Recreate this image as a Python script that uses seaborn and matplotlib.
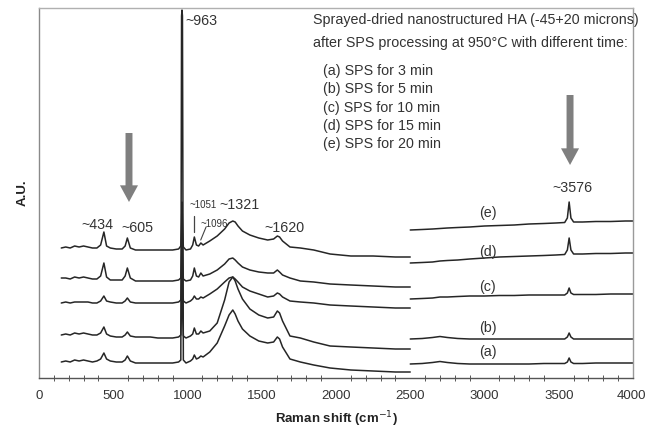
import matplotlib
matplotlib.use("Agg")
import matplotlib.pyplot as plt
import matplotlib.transforms as mtransforms
import seaborn as sns
import pandas as pd

# ---------------- data ----------------
TRACES = ["a", "b", "c", "d", "e"]

X_LEFT = [150, 180, 210, 240, 270, 300, 330, 360, 390, 415, 437, 455, 480, 520, 560,
          580, 595, 615, 650, 700, 750, 800, 850, 900, 940, 955, 960, 963, 966, 972,
          990, 1020, 1035, 1046, 1060, 1075, 1090, 1105, 1150, 1200, 1250, 1280, 1305,
          1321, 1340, 1370, 1420, 1480, 1540, 1580, 1605, 1620, 1640, 1690, 1760, 1850,
          1960, 2100, 2250, 2400, 2500]

Y_LEFT_A = [16, 17, 16, 18, 17, 18, 17, 16, 17, 19, 25, 19, 17, 16, 16,
            18, 22, 17, 15, 15, 15, 15, 15, 15, 16, 18, 362, 368, 362, 18,
            15, 17, 19, 23, 19, 20, 22, 21, 26, 35, 52, 63, 68,
            64, 57, 49, 42, 37, 35, 36, 41, 39, 31, 19, 16, 13,
            10, 8, 7, 6, 6]
Y_LEFT_B = [43, 44, 43, 45, 44, 45, 44, 43, 43, 45, 51, 44, 42, 41, 41,
            43, 46, 42, 41, 41, 41, 40, 40, 40, 41, 43, 70, 95, 70, 42,
            40, 42, 44, 50, 44, 44, 47, 45, 47, 55, 78, 96, 101,
            97, 89, 79, 69, 63, 60, 61, 67, 65, 57, 42, 40, 36,
            32, 31, 30, 29, 29]
Y_LEFT_C = [75, 76, 75, 76, 76, 76, 76, 75, 75, 77, 82, 77, 76, 75, 75,
            77, 80, 76, 75, 75, 75, 75, 75, 75, 76, 78, 100, 125, 100, 77,
            75, 77, 79, 82, 79, 79, 81, 80, 84, 89, 96, 100, 101,
            99, 96, 91, 87, 84, 81, 82, 85, 84, 81, 77, 76, 75,
            73, 72, 71, 70, 70]
Y_LEFT_D = [100, 100, 99, 101, 100, 101, 100, 99, 99, 102, 115, 101, 98, 98, 98,
            102, 110, 100, 97, 97, 97, 97, 97, 97, 98, 100, 125, 150, 125, 99,
            97, 98, 102, 110, 102, 101, 105, 102, 104, 108, 114, 119, 120,
            118, 115, 111, 108, 106, 105, 105, 108, 106, 103, 100, 97, 96,
            94, 93, 92, 91, 91]
Y_LEFT_E = [130, 131, 130, 132, 131, 132, 131, 130, 130, 133, 146, 132, 130, 129, 129,
            132, 140, 130, 128, 128, 128, 128, 128, 128, 129, 132, 155, 176, 155, 131,
            128, 129, 133, 141, 133, 132, 135, 133, 137, 142, 149, 155, 157,
            156, 152, 147, 143, 140, 138, 139, 142, 141, 137, 131, 130, 128,
            124, 122, 122, 121, 121]

X_RIGHT = [2500, 2580, 2650, 2700, 2750, 2820, 2900, 3000, 3100, 3200, 3300, 3400,
           3480, 3540, 3558, 3570, 3582, 3600, 3660, 3750, 3850, 3950, 4000]

Y_RIGHT_A = [14, 14.5, 15.5, 16.5, 15.5, 14.5, 14, 14, 14, 14, 14, 14.5,
             14.5, 14.5, 16, 20, 16, 14.5, 14.5, 15, 15, 15, 15]
Y_RIGHT_B = [39, 39.5, 40.5, 41.5, 40.5, 39.5, 39, 39, 39, 39, 39, 39,
             39, 39, 41, 45, 41, 39, 39, 39, 39, 39, 39]
Y_RIGHT_C = [79, 79.5, 80, 81, 81, 81.5, 82, 82, 82.5, 82.5, 83, 83,
             83, 83, 85, 90, 85, 83.5, 83.5, 83.5, 84, 84, 84]
Y_RIGHT_D = [115, 115.5, 116, 117, 117.5, 118, 119, 120, 121, 121.5, 122, 122.5,
             123, 123.5, 128, 140, 128, 124, 124, 124.5, 124.5, 125, 125]
Y_RIGHT_E = [148, 148.5, 149, 149.5, 150, 150.5, 151, 152, 152.5, 153, 154, 154.5,
             155, 155.5, 160, 176, 160, 156, 156, 156.5, 156.5, 157, 157]

TRACE_LABELS = ["(a)", "(b)", "(c)", "(d)", "(e)"]
TRACE_LABEL_Y = [26, 50, 91, 126, 165]

PEAK_LABELS = ["~963", "~434", "~605", "~1051", "~1096", "~1321", "~1620", "~3576"]

HEADER = ["Sprayed-dried nanostructured HA (-45+20 microns)",
          "after SPS processing at 950\u00b0C with different time:"]
LEGEND_LINES = ["(a) SPS for 3 min", "(b) SPS for 5 min", "(c) SPS for 10 min",
                "(d) SPS for 15 min", "(e) SPS for 20 min"]

X_TICKS = [0, 500, 1000, 1500, 2000, 2500, 3000, 3500, 4000]

# ---------------- build long table ----------------
y_left = {"a": Y_LEFT_A, "b": Y_LEFT_B, "c": Y_LEFT_C, "d": Y_LEFT_D, "e": Y_LEFT_E}
y_right = {"a": Y_RIGHT_A, "b": Y_RIGHT_B, "c": Y_RIGHT_C, "d": Y_RIGHT_D, "e": Y_RIGHT_E}
rows = []
for t in TRACES:
    for x, y in zip(X_LEFT, y_left[t]):
        rows.append((x, y, t + "_L"))
    for x, y in zip(X_RIGHT, y_right[t]):
        rows.append((x, y, t + "_R"))
df = pd.DataFrame(rows, columns=["shift", "intensity", "unit"])

# ---------------- plot ----------------
sns.set_theme(style="white")
plt.rcParams["font.family"] = ["Liberation Sans", "DejaVu Sans"]

fig = plt.figure(figsize=(6.46, 4.29), dpi=100)
ax = fig.add_axes([39 / 646, 51 / 429, 594 / 646, 370 / 429])

sns.lineplot(data=df, x="shift", y="intensity", units="unit", estimator=None,
             sort=False, color="#262626", linewidth=1.1, legend=False, ax=ax)

ax.set_xlim(0, 4000)
ax.set_ylim(0, 370)
ax.set_xticks(X_TICKS)
ax.set_xticks(range(0, 4001, 100), minor=True)
ax.set_yticks([])
ax.tick_params(axis="x", which="major", direction="inout", length=5, width=0.8,
               color="#555555", labelsize=9.5, labelcolor="#333333", pad=6)
ax.tick_params(axis="x", which="minor", direction="inout", length=4, width=0.7,
               color="#555555", bottom=True)
# keep the last tick label inside the canvas
last = ax.get_xticklabels()[-1]
last.set_transform(last.get_transform() +
                   mtransforms.ScaledTranslation(-2 / 100, 0, fig.dpi_scale_trans))
for side, col in [("left", "#8a8a8a"), ("bottom", "#555555"), ("top", "#b0b0b0"),
                  ("right", "#9a9a9a")]:
    ax.spines[side].set_color(col)
    ax.spines[side].set_linewidth(1.0)

ax.set_xlabel("Raman shift (cm$^{-1}$)", fontsize=9.5, fontweight="bold", color="#222222")
ax.xaxis.set_label_coords(0.5, -0.085)
ax.set_ylabel("A.U.", fontsize=9.5, fontweight="bold", color="#222222")
ax.yaxis.set_label_coords(-0.018, 0.5)

txt = dict(color="#333333")
FS = 10.3
# header
ax.text(1845, 358, HEADER[0], fontsize=FS, ha="left", va="center", **txt)
ax.text(1845, 335, HEADER[1], fontsize=FS, ha="left", va="center", **txt)
for i, line in enumerate(LEGEND_LINES):
    ax.text(1912, 307 - i * 18.3, line, fontsize=FS, ha="left", va="center", **txt)

# peak labels
ax.text(983, 357, PEAK_LABELS[0], fontsize=FS, ha="left", va="center", **txt)
ax.text(394, 153, PEAK_LABELS[1], fontsize=FS, ha="center", va="center", **txt)
ax.text(660, 150, PEAK_LABELS[2], fontsize=FS, ha="center", va="center", **txt)
ax.text(1103, 173, PEAK_LABELS[3], fontsize=7, ha="center", va="center", **txt)
ax.text(1182, 154, PEAK_LABELS[4], fontsize=7, ha="center", va="center", **txt)
ax.text(1347, 173, PEAK_LABELS[5], fontsize=FS, ha="center", va="center", **txt)
ax.text(1650, 150, PEAK_LABELS[6], fontsize=FS, ha="center", va="center", **txt)
ax.text(3590, 190, PEAK_LABELS[7], fontsize=FS, ha="center", va="center", **txt)
ax.plot([1046, 1046], [146, 162], color="#444444", lw=0.9)
ax.plot([1089, 1125], [138, 151], color="#444444", lw=0.8)

# trace labels
for lab, yy in zip(TRACE_LABELS, TRACE_LABEL_Y):
    ax.text(3023, yy, lab, fontsize=FS, ha="center", va="center", **txt)

# arrows
arrow_kw = dict(facecolor="#7f7f7f", edgecolor="none", width=5, headwidth=13,
                headlength=12, shrink=0)
ax.annotate("", xy=(606, 176), xytext=(606, 245), arrowprops=arrow_kw)
ax.annotate("", xy=(3576, 213), xytext=(3576, 283), arrowprops=arrow_kw)

fig.savefig("out.png", dpi=100)
